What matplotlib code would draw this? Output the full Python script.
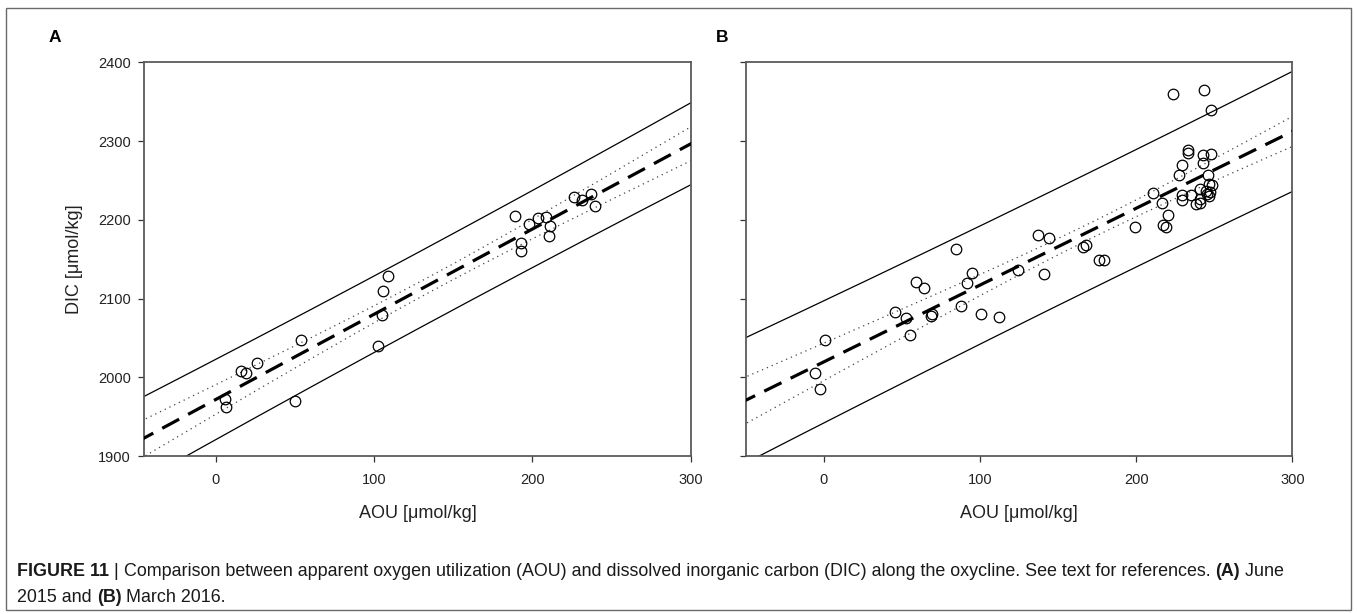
import numpy as np
import matplotlib
matplotlib.use("Agg")
import matplotlib.pyplot as plt
from matplotlib.patches import Rectangle

plt.rcParams['font.family'] = ['Liberation Sans', 'DejaVu Sans']

# ---------------- data ----------------
aou_a = [6.0, 6.5, 16.2, 19.1, 26.1, 50.3, 53.7, 102.4, 105.4, 105.8, 109.0,
         188.9, 193.0, 193.0, 197.7, 203.6, 208.6, 211.3, 210.8, 226.0, 231.4,
         237.3, 239.7]
dic_a = [1972.8, 1961.8, 2007.9, 2005.3, 2018.0, 1970.2, 2047.2, 2039.2, 2079.0,
         2109.4, 2128.4, 2204.6, 2170.7, 2160.2, 2194.4, 2202.0, 2202.9, 2191.9,
         2180.0, 2228.7, 2224.5, 2232.5, 2217.7]

aou_b = [-5.6, -2.4, 1.0, 45.3, 52.6, 55.1, 59.2, 63.9, 68.5, 69.0, 84.9, 87.9,
         91.6, 95.0, 100.6, 112.4, 124.1, 137.1, 141.0, 143.9, 166.0, 167.7,
         176.5, 179.7, 199.3, 210.5, 216.6, 217.1, 219.1, 220.3, 223.3, 227.4,
         229.1, 229.4, 229.4, 233.0, 233.0, 235.2, 238.4, 240.6, 240.6, 241.1,
         242.6, 243.1, 243.6, 245.0, 245.5, 246.0, 246.5, 246.8, 247.7, 248.2,
         248.7, 247.0]
dic_b = [2004.9, 1984.6, 2047.2, 2082.3, 2075.6, 2053.1, 2120.8, 2113.2, 2077.7,
         2079.8, 2162.7, 2089.9, 2119.1, 2131.8, 2080.2, 2076.4, 2136.0, 2180.9,
         2131.4, 2176.7, 2165.7, 2168.6, 2149.2, 2148.7, 2190.6, 2233.8, 2221.5,
         2193.2, 2191.0, 2205.8, 2359.8, 2257.0, 2270.1, 2231.2, 2225.7, 2288.3,
         2284.5, 2232.1, 2220.2, 2221.5, 2239.3, 2226.6, 2272.6, 2282.4, 2364.9,
         2236.7, 2232.9, 2257.4, 2230.8, 2246.0, 2339.5, 2283.3, 2244.8, 2235.0]

x_ticks = [0, 100, 200, 300]
y_ticks = [1900, 2000, 2100, 2200, 2300, 2400]
xlim_a = (-45, 300)
xlim_b = (-50, 300)
ylim = (1900, 2400)
t_crit_a = 2.080   # t(0.975, df=21)
t_crit_b = 2.007   # t(0.975, df=52)

x_label = "AOU [\u03bcmol/kg]"
y_label = "DIC [\u03bcmol/kg]"

# ---------------- figure ----------------
W, H = 1357, 614
fig = plt.figure(figsize=(W / 100, H / 100), dpi=100)


def px_axes(l, r, t, b):
    return fig.add_axes([l / W, 1 - b / H, (r - l) / W, (b - t) / H])


axA = px_axes(144.3, 690.7, 62.3, 456.0)
axB = px_axes(745.7, 1292.3, 62.3, 456.0)


def regression_panel(ax, x, y, xlim, tcrit):
    x = np.asarray(x, float)
    y = np.asarray(y, float)
    n = len(x)
    slope, icpt = np.polyfit(x, y, 1)
    res = y - (icpt + slope * x)
    s = np.sqrt(np.sum(res ** 2) / (n - 2))
    xm = x.mean()
    sxx = np.sum((x - xm) ** 2)
    xs = np.linspace(xlim[0] - 5, xlim[1] + 5, 400)
    yh = icpt + slope * xs
    ci = tcrit * s * np.sqrt(1 / n + (xs - xm) ** 2 / sxx)
    pi = tcrit * s * np.sqrt(1 + 1 / n + (xs - xm) ** 2 / sxx)
    ax.plot(xs, yh + pi, color='black', lw=0.9, zorder=2)
    ax.plot(xs, yh - pi, color='black', lw=0.9, zorder=2)
    ax.plot(xs, yh + ci, color='#444444', lw=0.9, ls=(0, (1, 3.2)), zorder=2)
    ax.plot(xs, yh - ci, color='#444444', lw=0.9, ls=(0, (1, 3.2)), zorder=2)
    ax.plot(xs, yh, color='black', lw=2.3, ls=(0, (6, 3.2)), zorder=3)
    ax.plot(x, y, ls='none', marker='o', ms=7.6, mfc='none', mec='black',
            mew=0.9, zorder=4)
    ax.set_xlim(*xlim)
    ax.set_ylim(*ylim)
    ax.set_xticks(x_ticks)
    ax.set_yticks(y_ticks)
    for sp in ax.spines.values():
        sp.set_color('#5a5a5a')
        sp.set_linewidth(1.3)
    ax.tick_params(direction='out', length=4.5, width=0.9, color='#333333',
                   labelsize=10.5, labelcolor='#222222', top=False, right=False)
    ax.tick_params(axis='x', pad=8)
    ax.tick_params(axis='y', pad=5)


regression_panel(axA, aou_a, dic_a, xlim_a, t_crit_a)
regression_panel(axB, aou_b, dic_b, xlim_b, t_crit_b)
axB.set_yticklabels([])

for ax in (axA, axB):
    ax.set_xlabel(x_label, fontsize=13, color='#222222')
    ax.xaxis.label.set_va('center')
    ax.xaxis.set_label_coords(0.5, (456 - 513) / 393.7)
axA.set_ylabel(y_label, fontsize=13, color='#222222')
axA.yaxis.label.set_va('center')
axA.yaxis.set_label_coords((75 - 144.3) / 546.4, 0.5)

# panel letters
fig.text(55 / W, 1 - 37 / H, "A", fontsize=12.5, fontweight='bold',
         ha='center', va='center')
fig.text(722 / W, 1 - 37 / H, "B", fontsize=12.5, fontweight='bold',
         ha='center', va='center')

# frame
fig.add_artist(Rectangle((6 / W, 1 - 610 / H), (1351 - 6) / W, (610 - 8) / H,
                         transform=fig.transFigure, fill=False,
                         ec='#6a6a6a', lw=1.0))

# caption with mixed weights
renderer = fig.canvas.get_renderer()


def rich_line(x0, y0, parts, size):
    x = x0
    for txt, bold in parts:
        t = fig.text(x / W, 1 - y0 / H, txt, fontsize=size,
                     fontweight='bold' if bold else 'normal',
                     ha='left', va='center', color='#1a1a1a')
        bb = t.get_window_extent(renderer=renderer)
        x += bb.width


cap_size = 12.9
rich_line(17, 572, [("FIGURE 11", True), (" | ", False),
                    ("Comparison between apparent oxygen utilization (AOU) and "
                     "dissolved inorganic carbon (DIC) along the oxycline. See "
                     "text for references. ", False),
                    ("(A)", True), (" June", False)], cap_size)
rich_line(17, 597, [("2015 and ", False), ("(B)", True),
                    (" March 2016.", False)], cap_size)

fig.savefig("out.png", dpi=100, facecolor='white')
